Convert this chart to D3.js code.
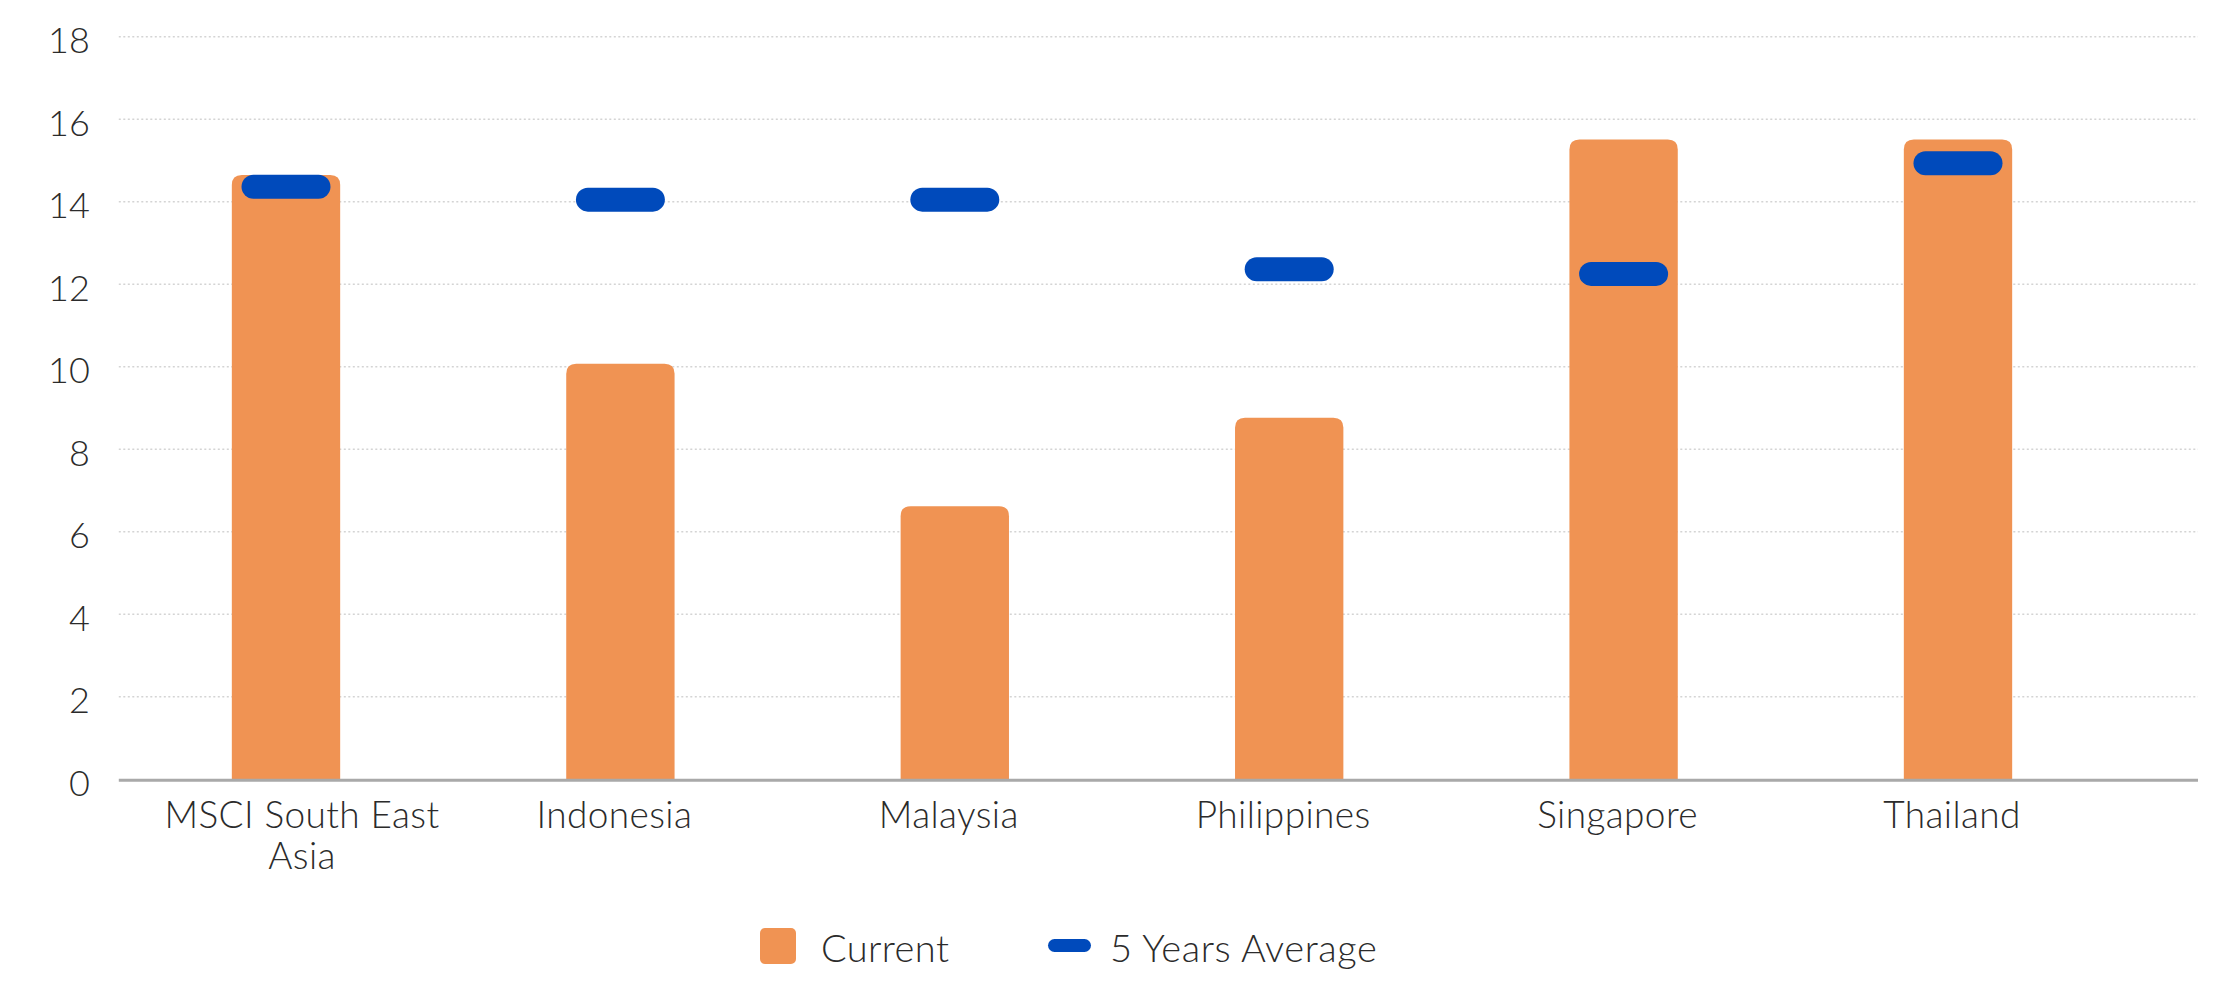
<!DOCTYPE html>
<html>
<head>
<meta charset="utf-8">
<script src="https://cdn.jsdelivr.net/npm/d3@7"></script>
<style>
  html, body { margin: 0; padding: 0; background: #fff; }
  text { font-family: Lato, "Open Sans", sans-serif; font-weight: 300; fill: #2b2b2b; }
</style>
</head>
<body>
<script>
var categories = ['MSCI South East Asia', 'Indonesia', 'Malaysia', 'Philippines', 'Singapore', 'Thailand'];
var current = [14.65, 10.07, 6.62, 8.76, 15.51, 15.51];
var fiveYearAvg = [14.36, 14.05, 14.05, 12.36, 12.25, 14.93];
var yTicks = [0, 2, 4, 6, 8, 10, 12, 14, 16, 18];
var seriesNames = ['Current', '5 Years Average'];

var w = 2220;
var h = 1003;
var orange = '#F09353';
var blue = '#004ABB';

var plotLeft = 118.8, plotRight = 2125.2, gridEnd = 2198;
var plotTop = 36.7, plotBottom = 779.2;

var rows = categories.map(function(c, i) {
    return { name: c, cur: current[i], avg: fiveYearAvg[i] };
});

var svg = d3.select('body')
    .append('svg')
    .attr('width', w)
    .attr('height', h);

var x = d3.scaleBand()
    .domain(categories)
    .range([plotLeft, plotRight])
    .paddingInner(0.676)
    .paddingOuter(0.338);

var y = d3.scaleLinear()
    .domain([0, 18])
    .range([plotBottom, plotTop]);

// dotted gridlines
svg.append('g')
    .selectAll('line')
    .data(yTicks.filter(function(t) { return t > 0; }))
    .enter().append('line')
    .attr('x1', plotLeft)
    .attr('x2', gridEnd)
    .attr('y1', function(d) { return y(d); })
    .attr('y2', function(d) { return y(d); })
    .attr('stroke', '#d4d4d4')
    .attr('stroke-width', 1.5)
    .attr('stroke-dasharray', '2,2.5');

// y axis labels
var yAxis = svg.append('g')
    .attr('transform', 'translate(' + plotLeft + ',0)')
    .call(d3.axisLeft(y).tickValues(yTicks).tickSize(0).tickPadding(29));
yAxis.select('.domain').remove();
yAxis.selectAll('text')
    .attr('dy', '0.45em')
    .style('font-size', '36px')
    .style('font-family', 'Lato, "Open Sans", sans-serif')
    .style('font-weight', 300)
    .attr('fill', '#2b2b2b');

// bars with rounded top corners
function topRounded(x0, y0, bw, bh, r) {
    r = Math.min(r, bh);
    return 'M' + x0 + ',' + (y0 + bh) +
        'V' + (y0 + r) +
        'Q' + x0 + ',' + y0 + ' ' + (x0 + r) + ',' + y0 +
        'H' + (x0 + bw - r) +
        'Q' + (x0 + bw) + ',' + y0 + ' ' + (x0 + bw) + ',' + (y0 + r) +
        'V' + (y0 + bh) + 'Z';
}

svg.append('g')
    .selectAll('path')
    .data(rows)
    .enter().append('path')
    .attr('d', function(d) {
        return topRounded(x(d.name), y(d.cur), x.bandwidth(), y(0) - y(d.cur), 10);
    })
    .attr('fill', orange);

// x baseline
svg.append('line')
    .attr('x1', plotLeft)
    .attr('x2', gridEnd)
    .attr('y1', y(0) + 1)
    .attr('y2', y(0) + 1)
    .attr('stroke', '#a9a9a9')
    .attr('stroke-width', 3);

// 5 year average markers
var mw = 89, mh = 24;
svg.append('g')
    .selectAll('rect')
    .data(rows)
    .enter().append('rect')
    .attr('x', function(d) { return x(d.name) + x.bandwidth() / 2 - mw / 2; })
    .attr('y', function(d) { return y(d.avg) - mh / 2; })
    .attr('width', mw)
    .attr('height', mh)
    .attr('rx', mh / 2)
    .attr('fill', blue);

// x axis labels (the wrapped first label sits a bit right of its bar)
var labels = svg.append('g')
    .selectAll('text')
    .data(categories)
    .enter().append('text')
    .attr('x', function(d, i) { return x(d) + x.bandwidth() / 2 + (i === 0 ? 16 : -6); })
    .attr('y', 828)
    .attr('text-anchor', 'middle')
    .style('font-size', '37px')
    .style('letter-spacing', '0.4px');

labels.each(function(d) {
    var lines = d === 'MSCI South East Asia' ? ['MSCI South East', 'Asia'] : [d];
    var t = d3.select(this);
    lines.forEach(function(l, i) {
        t.append('tspan')
            .attr('x', t.attr('x'))
            .attr('dy', i === 0 ? 0 : 41)
            .text(l);
    });
});

// legend
var legend = svg.append('g');
legend.append('rect')
    .attr('x', 760).attr('y', 928)
    .attr('width', 36).attr('height', 36)
    .attr('rx', 5)
    .attr('fill', orange);
legend.append('text')
    .attr('x', 821).attr('y', 962)
    .style('font-size', '38px')
    .style('letter-spacing', '0.4px')
    .text(seriesNames[0]);
legend.append('rect')
    .attr('x', 1048).attr('y', 939)
    .attr('width', 43).attr('height', 13)
    .attr('rx', 6.5)
    .attr('fill', blue);
legend.append('text')
    .attr('x', 1110).attr('y', 962)
    .style('font-size', '38px')
    .style('letter-spacing', '0.6px')
    .text(seriesNames[1]);
</script>
</body>
</html>
